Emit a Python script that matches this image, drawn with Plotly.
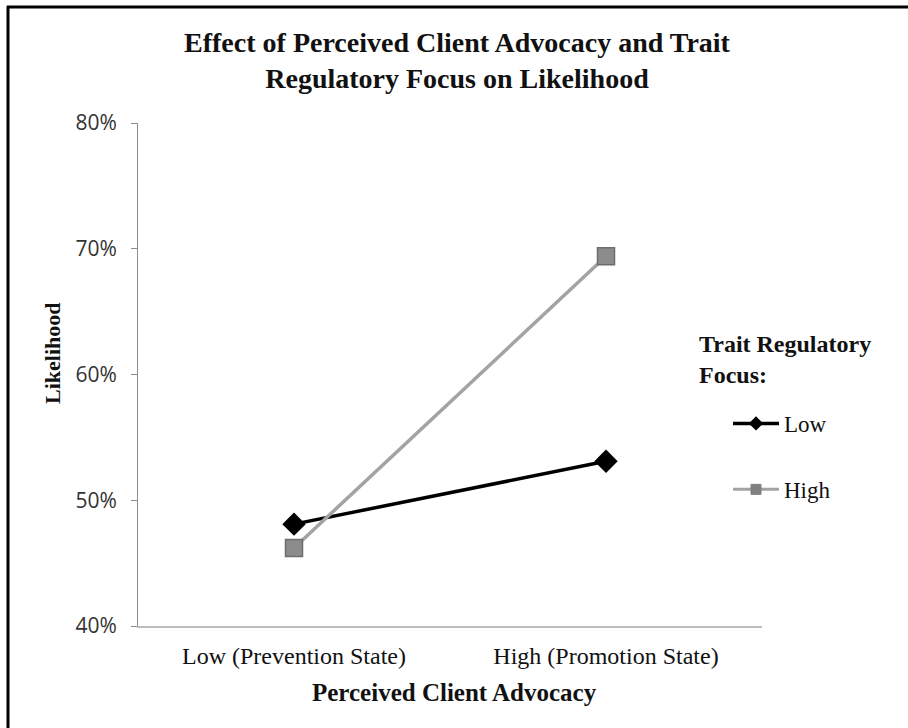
import plotly.graph_objects as go

categories = ["Low (Prevention State)", "High (Promotion State)"]
low_focus = [0.481, 0.531]
high_focus = [0.462, 0.694]
y_ticks = [0.4, 0.5, 0.6, 0.7, 0.8]
y_tick_labels = ["40%", "50%", "60%", "70%", "80%"]
series_names = ["Low", "High"]

W, H = 908, 728
L, R, T, B = 138, 146, 123, 102
pw, ph = W - L - R, H - T - B

def px_x(p):
    return (p - L) / pw

def px_y(p):
    return (H - B - p) / ph

serif = "Liberation Serif, Times New Roman, serif"

fig = go.Figure()
# data traces (not in legend)
fig.add_trace(go.Scatter(
    x=categories, y=low_focus, name=series_names[0], mode="lines+markers",
    line=dict(color="#000000", width=3.5),
    marker=dict(symbol="diamond", size=18, color="#000000"),
    showlegend=False,
))
fig.add_trace(go.Scatter(
    x=categories, y=high_focus, name=series_names[1], mode="lines+markers",
    line=dict(color="#A3A3A3", width=3.5),
    marker=dict(symbol="square", size=17, color="#8C8C8C",
                line=dict(color="#6E6E6E", width=1.5)),
    showlegend=False,
))
# legend-only entries with smaller symbols
fig.add_trace(go.Scatter(
    x=[None], y=[None], name=series_names[0], mode="lines+markers",
    line=dict(color="#000000", width=3.5),
    marker=dict(symbol="diamond", size=11, color="#000000"),
    legendgroup="a",
))
fig.add_trace(go.Scatter(
    x=[None], y=[None], name=series_names[1], mode="lines+markers",
    line=dict(color="#A3A3A3", width=3),
    marker=dict(symbol="square", size=10, color="#808080",
                line=dict(color="#808080", width=1)),
    legendgroup="b",
))

fig.update_layout(
    width=W, height=H,
    margin=dict(l=L, r=R, t=T, b=B),
    paper_bgcolor="white", plot_bgcolor="white",
    title=dict(
        text="<b>Effect of Perceived Client Advocacy and Trait<br>Regulatory Focus on Likelihood</b>",
        x=px_x(457), xref="paper", xanchor="center",
        y=1 - 52 / H, yanchor="middle",
        font=dict(family=serif, size=28, color="#111111"),
    ),
    showlegend=True,
    legend=dict(
        font=dict(family=serif, size=23, color="#111111"),
        x=px_x(728), y=px_y(402), xanchor="left", yanchor="top",
        xref="paper", yref="paper",
        tracegroupgap=33,
        bgcolor="rgba(0,0,0,0)",
        itemwidth=46,
    ),
    xaxis=dict(
        type="category", range=[-0.5, 1.5],
        showline=True, linecolor="#BDBDBD", linewidth=2,
        ticks="", showgrid=False, zeroline=False,
        tickfont=dict(family=serif, size=24, color="#111111"),
        ticklabelstandoff=7,
    ),
    yaxis=dict(
        range=[0.4, 0.8],
        tickvals=y_ticks, ticktext=y_tick_labels,
        showline=True, linecolor="#8C8C8C", linewidth=1,
        ticks="outside", ticklen=6, tickcolor="#8C8C8C",
        showgrid=False, zeroline=False,
        tickfont=dict(family="Open Sans, sans-serif", size=21, color="#333333"),
        ticklabelstandoff=10,
    ),
    annotations=[
        dict(text="<b>Trait Regulatory<br>Focus:</b>", align="left",
             x=px_x(697), y=px_y(359), xref="paper", yref="paper",
             showarrow=False, xanchor="left", yanchor="middle",
             font=dict(family=serif, size=24, color="#111111")),
        dict(text="<b>Likelihood</b>", textangle=-90,
             x=px_x(52), y=px_y(354), xref="paper", yref="paper",
             showarrow=False, xanchor="center", yanchor="middle",
             font=dict(family=serif, size=22, color="#111111")),
        dict(text="<b>Perceived Client Advocacy</b>",
             x=px_x(454), y=px_y(692), xref="paper", yref="paper",
             showarrow=False, xanchor="center", yanchor="middle",
             font=dict(family=serif, size=25, color="#111111")),
    ],
    shapes=[
        dict(type="line", xref="paper", yref="paper",
             x0=px_x(7), x1=px_x(W + 2), y0=px_y(7), y1=px_y(7),
             line=dict(color="#000000", width=3)),
        dict(type="line", xref="paper", yref="paper",
             x0=px_x(8), x1=px_x(8), y0=px_y(6), y1=px_y(H + 2),
             line=dict(color="#000000", width=3)),
    ],
)

fig.write_html("out.html", config={"displayModeBar": False},
               post_script="document.body.style.margin='0';document.body.style.overflow='hidden';")
